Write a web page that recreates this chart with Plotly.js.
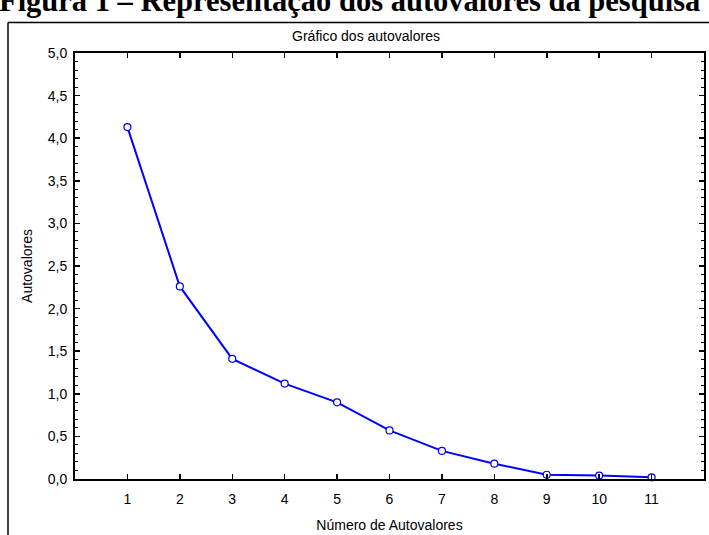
<!DOCTYPE html>
<html>
<head>
<meta charset="utf-8">
<script src="https://cdn.plot.ly/plotly-3.0.1.min.js"></script>
<style>html,body{margin:0;padding:0;background:#fff;}#chart{width:709px;height:535px;}</style>
</head>
<body>
<div id="chart"></div>
<script>
// Data
const componentNumbers = [1, 2, 3, 4, 5, 6, 7, 8, 9, 10, 11];
const eigenvalues = [4.13, 2.26, 1.41, 1.12, 0.90, 0.57, 0.33, 0.18, 0.05, 0.04, 0.02];
const xTickValues = [1, 2, 3, 4, 5, 6, 7, 8, 9, 10, 11];
const headingText = 'Figura 1 – Representação dos autovalores da pesquisa';
const chartTitle = 'Gráfico dos autovalores';
const xTitle = 'Número de Autovalores';
const yTitle = 'Autovalores';

// Geometry helpers (pixel -> paper) for plot area 75..704 x 52.5..479
const W = 709, H = 535;
const mL = 75, mR = 5, mT = 52.5, mB = 56;
const pw = W - mL - mR, ph = H - mT - mB;
const px = v => (v - mL) / pw;
const py = v => (H - mB - v) / ph;

const trace = {
  x: componentNumbers,
  y: eigenvalues,
  type: 'scatter',
  mode: 'lines+markers',
  cliponaxis: false,
  line: {color: '#0000ff', width: 2},
  marker: {symbol: 'circle', size: 7, color: '#ffffff', line: {color: '#0000ff', width: 1.2}},
  hoverinfo: 'skip'
};

const axisFont = {family: 'Liberation Sans, Arial, sans-serif', size: 14, color: '#000'};

const layout = {
  width: W, height: H,
  margin: {l: mL, r: mR, t: mT, b: mB, pad: 0},
  paper_bgcolor: '#fff', plot_bgcolor: '#fff',
  separators: ',.',
  showlegend: false,
  font: axisFont,
  title: {
    text: chartTitle,
    font: {family: 'Liberation Sans, Arial, sans-serif', size: 14, color: '#000'},
    xref: 'container', yref: 'container',
    x: 366 / W, xanchor: 'center',
    y: 1 - 36 / H, yanchor: 'middle'
  },
  xaxis: {
    range: [0, 12],
    tickvals: xTickValues,
    ticktext: xTickValues.map(String),
    ticks: 'inside', ticklen: 5, tickwidth: 1.5, tickcolor: '#000',
    mirror: 'ticks', showline: true, linewidth: 2, linecolor: '#000',
    showgrid: false, zeroline: false,
    ticklabelstandoff: 6,
    tickfont: {family: 'Liberation Sans, Arial, sans-serif', size: 14, color: '#000'},
    title: {text: xTitle, standoff: 14, font: axisFont},
    automargin: false, fixedrange: true
  },
  yaxis: {
    range: [0, 5],
    tick0: 0, dtick: 0.5, tickformat: '.1f',
    ticks: 'inside', ticklen: 5, tickwidth: 1.5, tickcolor: '#000',
    minor: {dtick: 0.1, ticks: 'inside', ticklen: 3, tickwidth: 1, tickcolor: '#000', showgrid: false},
    mirror: 'ticks', showline: true, linewidth: 2, linecolor: '#000',
    showgrid: false, zeroline: false,
    ticklabelstandoff: 3,
    tickfont: {family: 'Liberation Sans, Arial, sans-serif', size: 14, color: '#000'},
    title: {text: yTitle, standoff: 12, font: axisFont},
    automargin: false, fixedrange: true
  },
  shapes: [
    {type: 'line', xref: 'paper', yref: 'paper', x0: px(8), x1: px(8), y0: py(22), y1: py(540), line: {color: '#000', width: 1.5}},
    {type: 'line', xref: 'paper', yref: 'paper', x0: px(8), x1: px(715), y0: py(22), y1: py(22), line: {color: '#000', width: 1.5}}
  ],
  annotations: [
    {
      text: '<b>' + headingText + '</b>',
      xref: 'paper', yref: 'paper',
      x: px(-3), xanchor: 'left',
      y: py(0), yanchor: 'middle',
      showarrow: false,
      font: {family: 'Liberation Serif, Times New Roman, serif', size: 30.5, color: '#000'}
    }
  ]
};

Plotly.newPlot('chart', [trace], layout, {displayModeBar: false, staticPlot: true});
</script>
</body>
</html>
